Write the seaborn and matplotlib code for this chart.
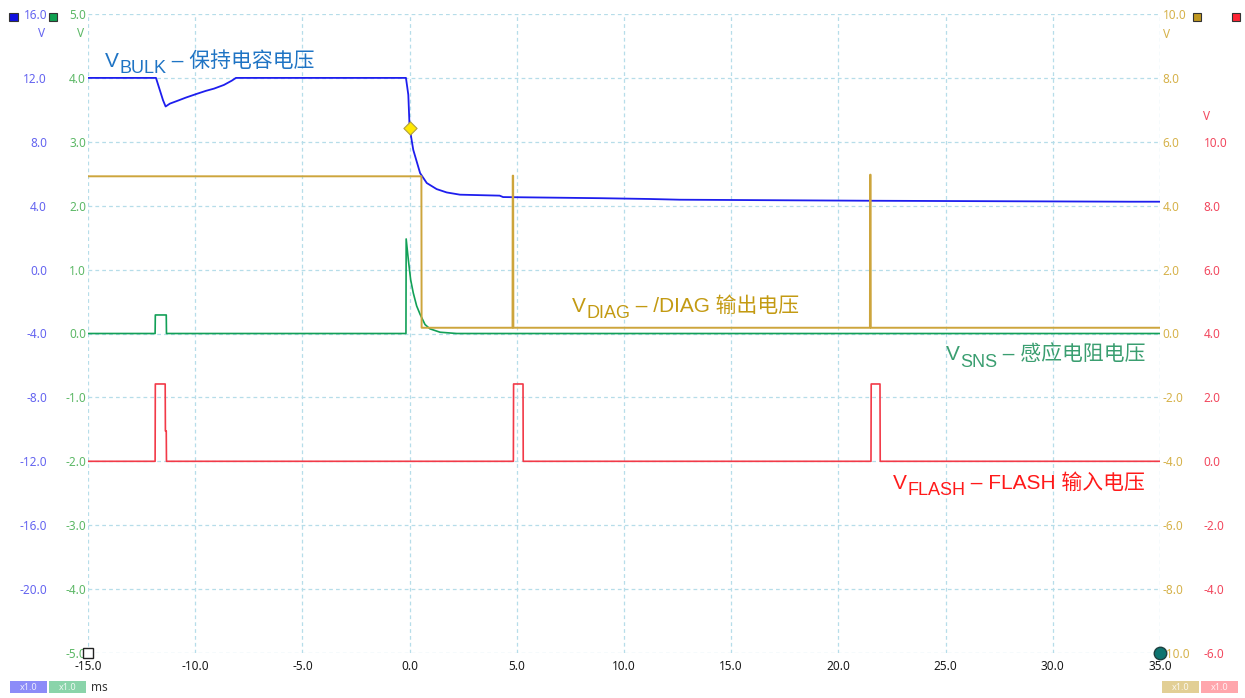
import numpy as np
import pandas as pd
import matplotlib
matplotlib.use("Agg")
import matplotlib.pyplot as plt
import seaborn as sns
from matplotlib.patches import Rectangle
from matplotlib.ticker import FormatStrFormatter, FixedLocator

# ---------------- data ----------------
# V_BULK (blue axis, V)
bulk_t = [-15.0, -11.83, -11.5, -11.38, -11.18, -10.80, -10.43, -9.93, -9.50, -9.12, -8.66,
          -8.29, -8.10, -0.17, -0.06, 0.0, 0.17, 0.49, 0.80, 1.26, 1.73, 2.35, 4.2, 4.36,
          8.9, 11.2, 12.6, 21.5, 33.6, 35.0]
bulk_v = [12.0, 12.0, 10.6, 10.21, 10.39, 10.58, 10.77, 11.0, 11.19, 11.33, 11.56,
          11.83, 12.0, 12.0, 10.94, 8.89, 7.5, 6.04, 5.42, 5.04, 4.83, 4.69, 4.63, 4.54,
          4.47, 4.42, 4.375, 4.31, 4.25, 4.25]
# V_SNS (green axis, V)
sns_t = [-15.0, -11.87, -11.86, -11.35, -11.34, -0.17, -0.16, -0.06, 0.05, 0.17, 0.33,
         0.49, 0.72, 0.95, 1.42, 2.2, 35.0]
sns_v = [0.0, 0.0, 0.29, 0.29, 0.0, 0.0, 1.48, 1.156, 0.84, 0.636, 0.43,
         0.30, 0.14, 0.073, 0.02, 0.0, 0.0]
# V_DIAG (gold axis, V)
diag_t = [-15.0, 0.55, 0.56, 4.80, 4.81, 4.83, 4.84, 21.47, 21.48, 21.50, 21.51, 35.0]
diag_v = [4.92, 4.92, 0.18, 0.18, 4.94, 4.94, 0.18, 0.18, 4.97, 4.97, 0.18, 0.18]
# V_FLASH (red axis, V)
flash_t = [-15.0, -11.87, -11.86, -11.40, -11.39, -11.35, -11.34, 4.84, 4.85, 5.29, 5.30,
           21.52, 21.53, 21.94, 21.95, 35.0]
flash_v = [0.0, 0.0, 2.42, 2.42, 0.95, 0.95, 0.0, 0.0, 2.42, 2.42, 0.0,
           0.0, 2.42, 2.42, 0.0, 0.0]
# cursor marker on V_BULK
cursor_t = [0.0]
cursor_v = [8.89]

# axis ticks
x_ticks = [-15, -10, -5, 0, 5, 10, 15, 20, 25, 30, 35]
blue_ticks = [16, 12, 8, 4, 0, -4, -8, -12, -16, -20]
green_ticks = [5, 4, 3, 2, 1, 0, -1, -2, -3, -4, -5]
gold_ticks = [10, 8, 6, 4, 2, 0, -2, -4, -6, -8, -10]
red_ticks = [10, 8, 6, 4, 2, 0, -2, -4, -6]

# ---------------- style ----------------
sns.set_theme(style="white")
TICKFAM = ["Noto Sans", "DejaVu Sans"]
ANNFAM = ["Liberation Sans", "Noto Sans CJK SC", "DejaVu Sans"]
plt.rcParams["font.family"] = TICKFAM

C_BLUE, C_GREEN, C_GOLD, C_RED = "#1E1EEE", "#12A057", "#CDA53C", "#F23A48"
L_BLUE, L_GREEN, L_GOLD, L_RED = "#6464F0", "#5CB866", "#D6B24A", "#F2485E"
GRID = "#B6DDE9"

W, H = 1245, 698
def fx(x): return x / W
def fy(y): return 1 - y / H

fig = plt.figure(figsize=(W / 100, H / 100), dpi=100)
fig.patch.set_facecolor("white")

ax = fig.add_axes([fx(88), fy(653), (1160 - 88) / W, (653 - 14) / H])
ax_b = ax.twinx()
ax_gd = ax.twinx()
ax_r = ax.twinx()

for a in (ax, ax_b, ax_gd, ax_r):
    for s in a.spines.values():
        s.set_visible(False)

# grid
ax.xaxis.set_major_locator(FixedLocator(x_ticks))
ax.yaxis.set_major_locator(FixedLocator(green_ticks))
ax.grid(True, color=GRID, linestyle=(0, (3, 2.5)), linewidth=0.9)
ax.set_facecolor("white")

# traces
sns.lineplot(x=sns_t, y=sns_v, ax=ax, estimator=None, sort=False, color=C_GREEN, linewidth=1.2)
sns.lineplot(x=diag_t, y=diag_v, ax=ax_gd, estimator=None, sort=False, color=C_GOLD, linewidth=1.4)
sns.lineplot(x=flash_t, y=flash_v, ax=ax_r, estimator=None, sort=False, color=C_RED, linewidth=1.2)
sns.lineplot(x=bulk_t, y=bulk_v, ax=ax_b, estimator=None, sort=False, color=C_BLUE, linewidth=1.3)
sns.scatterplot(x=cursor_t, y=cursor_v, ax=ax_b, marker="D", s=45, color="#FFE800",
                edgecolor="#B0A040", linewidth=0.8, zorder=6)

for a in (ax, ax_b, ax_gd, ax_r):
    a.set_xlim(-15, 35)
    a.set_xlabel("")
    a.set_ylabel("")
ax.set_ylim(-5, 5)
ax_b.set_ylim(-24, 16)
ax_gd.set_ylim(-10, 10)
ax_r.set_ylim(-6, 14)

fmt = FormatStrFormatter("%.1f")
# x axis
ax.xaxis.set_major_formatter(fmt)
ax.tick_params(axis="x", length=0, pad=5, labelsize=8.5, labelcolor="#1a1a1a")
for a in (ax_b, ax_gd, ax_r):
    a.tick_params(axis="x", length=0, labelbottom=False)
    a.grid(False)

# green (inner left)
ax.yaxis.set_major_formatter(fmt)
ax.yaxis.tick_left()
ax.tick_params(axis="y", length=0, pad=1.5, labelsize=8.5, labelcolor=L_GREEN)

# blue (outer left)
ax_b.yaxis.set_major_locator(FixedLocator(blue_ticks))
ax_b.yaxis.set_major_formatter(fmt)
ax_b.yaxis.tick_left()
ax_b.tick_params(axis="y", length=0, pad=29.5, labelsize=8.5, labelcolor=L_BLUE)

# gold (inner right)
ax_gd.yaxis.set_major_locator(FixedLocator(gold_ticks))
ax_gd.yaxis.set_major_formatter(fmt)
ax_gd.yaxis.tick_right()
ax_gd.tick_params(axis="y", length=0, pad=2, labelsize=8.5, labelcolor=L_GOLD)

# red (outer right)
ax_r.yaxis.set_major_locator(FixedLocator(red_ticks))
ax_r.yaxis.set_major_formatter(fmt)
ax_r.yaxis.tick_right()
ax_r.tick_params(axis="y", length=0, pad=31.5, labelsize=8.5, labelcolor=L_RED)

# corner markers
ax.plot([-15], [-5], marker="s", ms=7, mfc="white", mec="#222222", mew=1.0,
        clip_on=False, zorder=20)
ax_gd.plot([35], [-10], marker="o", ms=9, mfc="#0E7470", mec="#1f3f3f", mew=1.0,
           clip_on=False, zorder=20)
ax_gd.set_ylim(-10, 10)

# units
fig.text(fx(41.5), fy(33.5), "V", color=L_BLUE, fontsize=8.5, ha="center", va="center")
fig.text(fx(80.5), fy(33.5), "V", color=L_GREEN, fontsize=8.5, ha="center", va="center")
fig.text(fx(1163), fy(34), "V", color=L_GOLD, fontsize=8.5, ha="left", va="center")
fig.text(fx(1207), fy(117), "V", color=L_RED, fontsize=8.5, ha="center", va="center")

# top channel squares
for (x0, col) in [(9.3, "#1010E0"), (49.0, "#10A050"), (1192.7, "#C09820"), (1231.7, "#FF2535")]:
    fig.add_artist(Rectangle((fx(x0), fy(20.7)), 8.2 / W, 8.0 / H, transform=fig.transFigure,
                             facecolor=col, edgecolor="#333333", linewidth=0.8))

# bottom badges
for (x0, col) in [(10, "#8C8CF8"), (49.3, "#8AD4AA"), (1162, "#E2CF95"), (1201, "#FFA6AC")]:
    fig.add_artist(Rectangle((fx(x0), fy(693.3)), 36.7 / W, 12.5 / H, transform=fig.transFigure,
                             facecolor=col, edgecolor="none"))
    fig.text(fx(x0 + 18.3), fy(687), "x1.0", color="white", fontsize=6.5, ha="center",
             va="center", alpha=0.85)
fig.text(fx(91), fy(687.5), "ms", color="#333333", fontsize=8.5, ha="left", va="center")

# channel annotations
def channel_label(x, y, sub, rest, color):
    t1 = ax_r.text(fx(x), fy(y), "V", transform=fig.transFigure, fontsize=15, color=color,
                   va="baseline", ha="left", family=ANNFAM)
    t2 = ax_r.annotate(sub, xy=(1, 0), xycoords=t1, xytext=(0.3, -4.4), textcoords="offset points",
                       fontsize=13, color=color, va="bottom", ha="left", family=ANNFAM)
    ax_r.annotate(rest, xy=(1, 0), xycoords=t2, xytext=(0, 4.4), textcoords="offset points",
                  fontsize=15, color=color, va="bottom", ha="left", family=ANNFAM)

channel_label(105, 67, "BULK", " – 保持电容电压", "#1F74C4")
channel_label(572, 312, "DIAG", " – /DIAG 输出电压", "#C39A12")
channel_label(946, 360.5, "SNS", " – 感应电阻电压", "#3A9E70")
channel_label(893, 489, "FLASH", " – FLASH 输入电压", "#FF1A1A")

fig.savefig("out.png", dpi=100, facecolor="white")
